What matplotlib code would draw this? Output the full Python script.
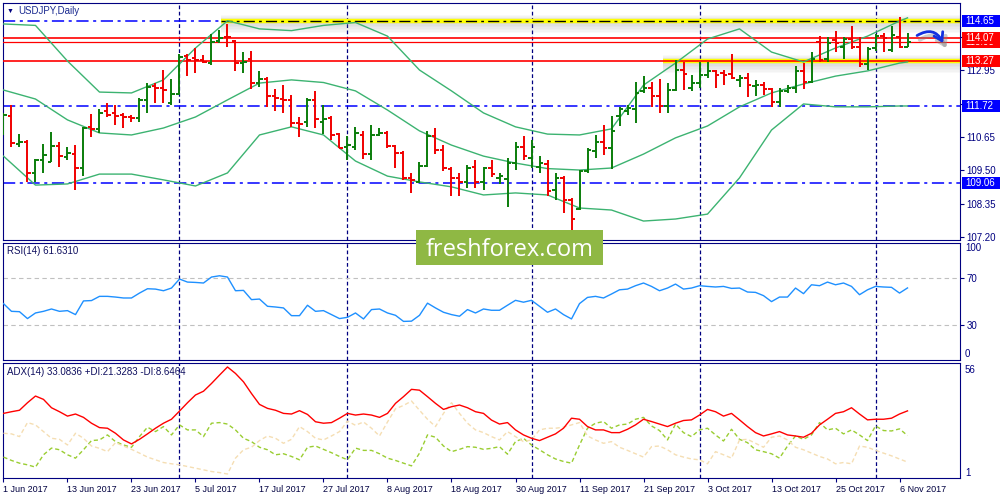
"""
USDJPY daily chart in the MetaTrader style: price bars with Bollinger bands,
RSI(14) and ADX(14) panels, marked levels and a watermark.
"""

import numpy as np
import matplotlib
matplotlib.use("Agg")
import matplotlib.pyplot as plt
import matplotlib.transforms as mtransforms
import matplotlib.patheffects as pe
from matplotlib.patches import Rectangle, FancyArrowPatch

plt.rcParams['font.family'] = ['Liberation Sans', 'DejaVu Sans']

# ---------------------------------------------------------------- data
opens = [110.89, 111.38, 110.41, 110.49, 109.40, 109.84, 109.80, 110.34, 109.95, 110.07,
         109.57, 111.01, 110.92, 111.53, 111.47, 111.41, 111.33, 111.30, 111.91, 112.41,
         112.33, 111.81, 112.13, 113.45, 113.36, 113.31, 113.22, 113.97, 114.11, 113.97,
         113.19, 113.33, 112.50, 112.64, 112.07, 111.95, 111.93, 111.13, 111.15, 111.93,
         111.15, 111.30, 110.76, 110.32, 110.32, 110.72, 110.07, 110.72, 110.80, 110.34,
         110.09, 109.23, 109.11, 109.65, 110.69, 110.21, 109.54, 109.23, 109.08, 109.63,
         109.08, 109.57, 109.23, 109.19, 109.75, 110.29, 109.92, 109.63, 109.72, 108.83,
         109.23, 108.48, 108.16, 109.46, 110.15, 110.49, 110.26, 111.36, 111.53, 111.61,
         112.22, 112.33, 112.05, 111.72, 112.27, 112.96, 112.33, 112.53, 112.79, 112.91,
         112.87, 112.83, 112.62, 112.68, 112.41, 112.45, 112.30, 111.87, 112.25, 112.33,
         112.94, 112.56, 113.94, 113.33, 114.00, 113.77, 114.02, 113.77, 113.17, 113.71,
         114.14, 113.65, 114.11, 113.77]
highs = [111.47, 111.76, 110.76, 110.53, 109.88, 110.41, 110.83, 110.49, 110.32, 110.38,
         111.01, 111.45, 111.61, 111.81, 111.76, 111.47, 111.41, 111.99, 112.50, 112.50,
         112.96, 112.64, 113.51, 113.51, 113.73, 113.48, 114.19, 114.34, 114.55, 114.00,
         113.59, 113.63, 112.91, 112.71, 112.30, 112.45, 112.10, 111.33, 111.99, 112.25,
         111.76, 111.36, 110.80, 110.69, 110.99, 110.87, 111.07, 110.95, 110.84, 110.38,
         110.18, 109.42, 109.80, 110.84, 110.95, 110.37, 109.63, 109.42, 109.69, 109.86,
         109.63, 109.86, 109.42, 109.92, 110.49, 110.69, 110.55, 109.98, 109.86, 109.40,
         109.29, 108.54, 109.52, 110.26, 110.72, 111.07, 111.36, 111.68, 111.76, 112.56,
         112.76, 112.56, 112.64, 112.50, 113.31, 113.25, 112.79, 113.25, 113.25, 112.96,
         112.96, 113.51, 112.79, 112.87, 112.62, 112.56, 112.33, 112.33, 112.45, 113.10,
         113.19, 113.59, 114.14, 114.09, 114.31, 114.11, 114.48, 114.09, 113.77, 114.21,
         114.25, 114.48, 114.80, 114.23]
lows = [110.72, 110.32, 110.32, 109.11, 109.11, 109.40, 109.77, 109.63, 109.86, 108.83,
        109.29, 110.64, 110.78, 111.33, 111.07, 110.95, 111.15, 111.18, 111.47, 111.84,
        111.81, 111.76, 112.10, 112.76, 112.85, 113.19, 113.13, 113.91, 113.74, 112.94,
        112.87, 112.30, 112.37, 111.70, 111.56, 111.49, 111.01, 110.64, 111.01, 110.95,
        110.76, 110.55, 110.26, 109.86, 110.21, 109.88, 109.84, 110.67, 110.26, 109.57,
        109.17, 108.73, 109.06, 109.63, 110.07, 109.46, 108.60, 108.62, 108.88, 108.88,
        108.83, 109.26, 109.03, 108.25, 109.52, 109.86, 109.57, 109.40, 108.62, 108.46,
        108.04, 107.44, 108.14, 109.40, 109.92, 110.03, 109.54, 111.03, 111.41, 111.13,
        112.16, 111.68, 111.49, 111.49, 112.25, 112.27, 112.22, 112.33, 112.68, 112.33,
        112.45, 112.64, 112.37, 112.02, 112.07, 112.10, 111.70, 111.68, 112.16, 112.16,
        112.30, 112.53, 113.25, 113.25, 113.59, 113.33, 113.68, 113.05, 112.96, 113.63,
        113.59, 113.59, 113.71, 113.74]
closes = [111.41, 110.43, 110.48, 109.40, 109.84, 110.03, 110.34, 109.98, 110.09, 109.57,
          110.95, 110.92, 111.47, 111.41, 111.38, 111.33, 111.30, 111.91, 112.37, 112.33,
          112.27, 112.13, 113.40, 113.31, 113.29, 113.25, 113.94, 114.05, 114.09, 113.22,
          113.25, 112.53, 112.64, 112.07, 111.99, 111.93, 111.13, 111.10, 111.93, 111.26,
          111.26, 110.72, 110.26, 110.38, 110.78, 110.07, 110.72, 110.78, 110.34, 110.09,
          109.23, 109.17, 109.65, 110.69, 110.21, 109.57, 109.23, 109.08, 109.57, 109.08,
          109.57, 109.38, 109.29, 109.75, 110.29, 110.00, 110.30, 109.75, 108.80, 109.23,
          108.48, 107.81, 109.46, 110.21, 110.49, 110.26, 110.87, 111.61, 111.64, 112.18,
          112.33, 112.05, 111.72, 112.27, 112.96, 112.83, 112.53, 112.79, 112.91, 112.79,
          112.79, 112.68, 112.68, 112.45, 112.45, 112.30, 111.87, 112.25, 112.33, 112.94,
          112.56, 113.33, 113.31, 113.91, 113.88, 114.02, 113.77, 113.17, 113.68, 114.14,
          114.05, 114.17, 113.77, 113.93]

# Bollinger bands, read every 4th bar (plus the last one)
band_idx = list(range(0, 113, 4)) + [113]
bb_upper = [114.55, 114.50, 113.27, 112.20, 112.17, 112.62, 113.72, 114.66, 114.38, 114.32,
            114.50, 114.60, 114.13, 112.96, 112.24, 111.48, 111.00, 110.75, 110.72, 110.93,
            112.44, 113.20, 114.03, 114.38, 113.58, 113.24, 113.72, 114.13, 114.65, 114.76]
bb_middle = [112.27, 111.96, 111.24, 110.79, 110.72, 110.96, 111.34, 111.93, 112.51, 112.62,
             112.53, 112.24, 111.58, 110.86, 110.37, 109.99, 109.75, 109.56, 109.51, 109.58,
             110.06, 110.62, 111.03, 111.69, 112.17, 112.48, 112.75, 112.93, 113.20, 113.24]
bb_lower = [109.99, 108.99, 109.03, 109.37, 109.37, 109.17, 108.96, 109.41, 110.72, 111.00,
            110.72, 109.82, 109.30, 109.10, 108.93, 108.65, 108.72, 108.65, 108.20, 108.13,
            107.75, 107.82, 107.99, 109.24, 110.89, 111.79, 111.69, 111.69, 111.72, 111.72]

rsi = [48.2, 41.6, 41.3, 35.4, 40.2, 41.6, 43.6, 41.6, 42.2, 38.8,
       50.5, 50.8, 54.4, 54.4, 53.8, 53.0, 53.0, 57.2, 60.9, 60.6,
       59.2, 61.5, 69.2, 66.6, 66.3, 65.8, 70.9, 72.0, 70.9, 59.2,
       59.5, 51.6, 52.1, 45.9, 45.3, 44.5, 37.9, 37.9, 46.8, 41.6,
       42.2, 38.8, 35.4, 36.5, 40.2, 35.1, 43.1, 43.6, 40.2, 38.2,
       33.0, 33.2, 38.2, 48.6, 44.5, 40.8, 38.8, 37.4, 43.1, 40.2,
       43.6, 42.5, 42.5, 46.8, 51.0, 49.4, 51.0, 45.9, 40.8, 43.6,
       38.8, 35.1, 48.2, 53.5, 54.4, 53.0, 56.4, 60.0, 60.6, 63.5,
       65.8, 62.9, 59.2, 61.5, 64.9, 60.6, 61.5, 63.5, 62.9, 62.4,
       62.9, 61.2, 61.5, 58.1, 57.8, 55.0, 49.9, 53.8, 53.8, 61.5,
       56.7, 64.3, 63.5, 66.6, 64.3, 65.8, 62.9, 55.8, 60.0, 62.9,
       62.4, 62.1, 57.2, 61.6]

adx = [31.9, 32.7, 33.4, 37.0, 40.2, 38.6, 34.6, 32.7, 30.6, 31.6,
       30.0, 27.2, 25.1, 24.8, 22.4, 19.2, 17.3, 19.5, 22.1, 24.8,
       27.2, 29.1, 33.0, 37.0, 40.7, 42.5, 46.2, 50.2, 54.1, 51.0,
       47.0, 41.4, 36.2, 34.3, 33.4, 31.9, 31.6, 33.2, 31.4, 27.9,
       27.2, 27.5, 29.6, 31.9, 31.1, 31.6, 31.1, 30.0, 31.9, 36.7,
       39.9, 43.4, 43.0, 39.9, 36.7, 33.8, 35.1, 35.9, 34.6, 32.7,
       31.9, 28.7, 26.8, 27.5, 24.0, 21.6, 20.0, 18.9, 20.5, 22.1,
       24.8, 29.6, 29.1, 25.6, 24.0, 24.0, 22.7, 22.7, 24.3, 26.4,
       29.1, 28.0, 26.8, 25.6, 27.2, 28.5, 28.8, 31.1, 33.8, 32.7,
       30.6, 31.9, 28.8, 25.6, 22.7, 21.1, 22.1, 23.2, 21.6, 21.1,
       20.5, 22.4, 26.4, 29.1, 31.9, 32.7, 34.6, 31.6, 28.8, 29.1,
       29.1, 29.6, 31.6, 33.1]
plus_di = [11.0, 9.4, 8.1, 7.3, 6.2, 12.1, 15.3, 14.5, 12.1, 10.5,
           14.5, 18.9, 19.2, 21.6, 18.4, 16.8, 15.7, 20.8, 25.3, 23.2,
           25.6, 21.6, 26.4, 24.0, 24.0, 20.8, 27.2, 27.5, 26.8, 24.0,
           20.0, 18.4, 15.7, 14.5, 12.1, 12.6, 11.3, 9.7, 15.7, 16.3,
           14.7, 13.1, 11.3, 9.7, 15.3, 14.2, 14.2, 12.6, 10.5, 9.4,
           8.1, 6.8, 12.9, 21.6, 20.5, 16.3, 13.6, 14.7, 16.0, 15.7,
           14.7, 15.2, 16.0, 12.4, 18.4, 20.0, 16.8, 14.5, 12.1, 10.1,
           8.9, 8.1, 16.8, 24.8, 27.2, 28.0, 24.8, 26.4, 26.8, 29.1,
           30.0, 25.9, 23.7, 19.2, 26.8, 22.7, 20.8, 24.0, 24.8, 21.6,
           18.7, 24.3, 19.5, 17.9, 14.5, 13.6, 12.6, 10.5, 16.3, 21.1,
           19.5, 21.6, 27.5, 24.0, 24.8, 22.1, 24.0, 21.6, 18.9, 25.9,
           23.7, 23.5, 24.5, 21.3]
minus_di = [22.4, 22.1, 20.8, 27.5, 26.4, 23.2, 20.0, 19.5, 16.8, 22.4,
            20.0, 16.3, 15.2, 13.6, 17.9, 16.3, 14.7, 12.9, 11.0, 9.7,
            8.4, 7.8, 7.3, 6.5, 5.7, 4.9, 4.1, 3.6, 2.9, 10.5,
            14.5, 15.7, 18.9, 21.1, 20.0, 17.6, 19.5, 25.6, 23.2, 20.0,
            19.2, 21.1, 23.2, 28.2, 26.2, 27.8, 24.8, 21.1, 27.8, 34.1,
            35.7, 37.8, 33.4, 29.1, 25.6, 31.9, 37.0, 31.9, 27.2, 24.0,
            22.7, 20.8, 19.2, 23.2, 20.8, 18.4, 19.2, 24.0, 24.8, 24.8,
            25.3, 26.4, 27.5, 21.1, 19.2, 17.6, 18.4, 15.7, 14.2, 12.6,
            11.0, 16.0, 16.3, 14.5, 12.1, 11.0, 10.1, 9.7, 7.8, 13.6,
            12.1, 10.5, 19.2, 19.5, 17.6, 15.7, 20.5, 21.1, 19.2, 15.7,
            14.5, 12.9, 11.3, 10.1, 7.8, 8.4, 7.8, 16.3, 15.7, 14.2,
            12.9, 11.6, 10.1, 8.6]

date_labels = ['1 Jun 2017', '13 Jun 2017', '23 Jun 2017', '5 Jul 2017', '17 Jul 2017',
               '27 Jul 2017', '8 Aug 2017', '18 Aug 2017', '30 Aug 2017', '11 Sep 2017',
               '21 Sep 2017', '3 Oct 2017', '13 Oct 2017', '25 Oct 2017', '6 Nov 2017']
label_idx = list(range(0, 113, 8))
month_starts = [22, 43, 66, 87, 109]

price_ticks = [107.20, 108.35, 109.50, 110.65, 111.80, 112.95, 114.10]
blue_levels = [114.65, 111.72, 109.06]
red_levels = [114.07, 113.27]
bid_price = 113.93
zones = {114.65: 27.2, 113.27: 82.4}   # yellow highlight: level -> first bar

# ---------------------------------------------------------------- style
W, H = 1000, 500
NAVY = '#000080'
BAR_UP = '#0a7d0a'
BAR_DN = '#f00000'
BB_COLOR = '#3cb371'
XLIM = (-0.06, 119.56)

fig = plt.figure(figsize=(W / 100, H / 100), dpi=100)
fig.patch.set_facecolor('white')


def px_axes(x0, y0, x1, y1):
    return fig.add_axes([x0 / W, 1 - y1 / H, (x1 - x0) / W, (y1 - y0) / H])


def fig_text(x, y, s, **kw):
    return fig.text(x / W, 1 - y / H, s, **kw)


ax = px_axes(3, 3, 960, 240)
ax_rsi = px_axes(3, 243, 960, 360)
ax_adx = px_axes(3, 363, 960, 478)

for a in (ax, ax_rsi, ax_adx):
    a.set_xlim(*XLIM)
    for sp in a.spines.values():
        sp.set_color(NAVY)
        sp.set_linewidth(0.8)
    a.tick_params(axis='x', bottom=False, labelbottom=False)
    a.yaxis.tick_right()
    a.tick_params(axis='y', length=3, width=0.8, color=NAVY, labelcolor=NAVY,
                  labelsize=7, pad=1.5)
    # monthly period separators
    for m in month_starts:
        a.axvline(m, color=NAVY, lw=0.9, ls=(0, (3, 2)), zorder=1)

# ---------------------------------------------------------------- price panel
ymin, ymax = 107.096, 115.273
px_price = (ymax - ymin) / 237.0

idx = np.arange(len(opens))
o, h, l, c = map(np.asarray, (opens, highs, lows, closes))
bar_colors = np.where(c >= o, BAR_UP, BAR_DN)

# horizontal levels
for lvl in blue_levels:
    ax.axhline(lvl, color='#0000ff', lw=1.1, ls=(0, (8, 3, 2, 3)), zorder=2)
for lvl, x0 in zones.items():
    xs = [x0, XLIM[1]]
    for k in range(1, 9):
        ax.fill_between(xs, lvl - 1.5 * k * px_price, lvl + 0.7 * k * px_price,
                        color='#808080', alpha=0.045, lw=0, zorder=2.2)
    ax.plot(xs, [lvl, lvl], color='#ffff00', lw=3.2, solid_capstyle='butt', zorder=2.5)
ax.plot([zones[114.65], XLIM[1]], [114.65, 114.65], color='black', lw=1,
        ls=(0, (8, 3, 2, 3)), zorder=2.6)
for lvl in red_levels:
    ax.axhline(lvl, color='#ff0000', lw=1.2, zorder=2.7)
ax.axhline(bid_price, color='#ff0000', lw=0.9, zorder=2.7)

# Bollinger bands
for band in (bb_upper, bb_middle, bb_lower):
    ax.plot(band_idx, band, color=BB_COLOR, lw=1, zorder=3)

# OHLC bars
ax.vlines(idx, l, h, colors=bar_colors, lw=1.4, zorder=5)
ax.hlines(o, idx - 0.38, idx, colors=bar_colors, lw=1.4, zorder=5)
ax.hlines(c, idx, idx + 0.38, colors=bar_colors, lw=1.4, zorder=5)

# curved forecast arrow
arrow = FancyArrowPatch((113.9, 114.10), (117.6, 113.80),
                        connectionstyle='arc3,rad=-0.6',
                        arrowstyle='->,head_length=0.4,head_width=0.25',
                        mutation_scale=14, color='#1430e0', lw=2.0, zorder=8,
                        path_effects=[pe.SimpleLineShadow(offset=(2, -3), shadow_color='gray',
                                                          alpha=0.4, linewidth=3),
                                      pe.Normal()])
ax.add_patch(arrow)

ax.set_yticks(price_ticks)
ax.set_yticklabels([f'{p:.2f}' for p in price_ticks])
ax.set_ylim(ymin, ymax)

# boxed price labels on the scale
lab_trans = mtransforms.blended_transform_factory(fig.transFigure, ax.transData)


def price_box(value, color, z):
    hgt = 12 * px_price
    ax.add_patch(Rectangle((962 / W, value - hgt / 2), 38 / W, hgt, transform=lab_trans,
                           fc=color, ec='none', zorder=z, clip_on=False))
    return ax.text(965.5 / W, value, f'{value:.2f}', transform=lab_trans, color='white',
                   fontsize=7, va='center', ha='left', zorder=z + 0.5, clip_on=False)


# the bid label sits under the 114.07 box: only its lower strip shows
bid_txt = price_box(bid_price, '#ff0000', 20)
bid_txt.set_clip_box(mtransforms.TransformedBbox(
    mtransforms.Bbox([[962 / W, 1 - 48 / H], [1.0, 1 - 42.5 / H]]), fig.transFigure))
bid_txt.set_clip_on(True)
for lvl in blue_levels:
    price_box(lvl, '#0000ff', 22)
for lvl in red_levels:
    price_box(lvl, '#ff0000', 24)
ax.set_ylim(ymin, ymax)

# ---------------------------------------------------------------- RSI panel
ax_rsi.plot(idx, rsi, color='#1e90ff', lw=1, zorder=3)
for lvl in (70, 30):
    ax_rsi.axhline(lvl, color='#c0c0c0', lw=0.8, ls=(0, (4, 3)), zorder=1)
ax_rsi.set_ylim(0, 100)
ax_rsi.set_yticks([70, 30])
ax_rsi.set_yticklabels(['70', '30'])

# ---------------------------------------------------------------- ADX panel
ax_adx.plot(idx, plus_di, color='#9acd32', lw=1, ls=(0, (3, 2)), zorder=3)
ax_adx.plot(idx, minus_di, color='#f5deb3', lw=1, ls=(0, (3, 2)), zorder=3)
ax_adx.plot(idx, adx, color='#ff0000', lw=1, zorder=4)
ax_adx.set_ylim(1, 56)
ax_adx.set_yticks([])
ax_adx.set_xticks(label_idx)
ax_adx.set_xticklabels(date_labels, ha='left')
ax_adx.tick_params(axis='x', bottom=True, labelbottom=True, length=3, width=0.8,
                   color=NAVY, labelcolor='#000040', labelsize=6.5, pad=2)

# ---------------------------------------------------------------- texts
fig_text(7, 11, '\u25bc', fontsize=5, color=NAVY, va='center')
fig_text(18, 11, 'USDJPY,Daily', fontsize=7, color='#1a2a90', va='center')
fig_text(7, 251, 'RSI(14) 61.6310', fontsize=7, color='#101060', va='center')
fig_text(7, 372, 'ADX(14) 33.0836 +DI:21.3283 -DI:8.6464', fontsize=7,
         color='#101060', va='center')
for y, s in ((248, '100'), (354, '0'), (370, '56'), (473, '1')):
    fig_text(965, y, s, fontsize=7, color=NAVY, va='center')

# watermark
fig.add_artist(Rectangle((416 / W, 1 - 265 / H), 187 / W, 35 / H, transform=fig.transFigure,
                         fc='#8fb844', ec='none', zorder=30))
fig_text(510, 256, 'freshforex.com', fontsize=17, color='white', ha='center',
         va='baseline', family=['Open Sans', 'DejaVu Sans'], zorder=31)

fig.savefig('out.png', dpi=100, facecolor='white')
